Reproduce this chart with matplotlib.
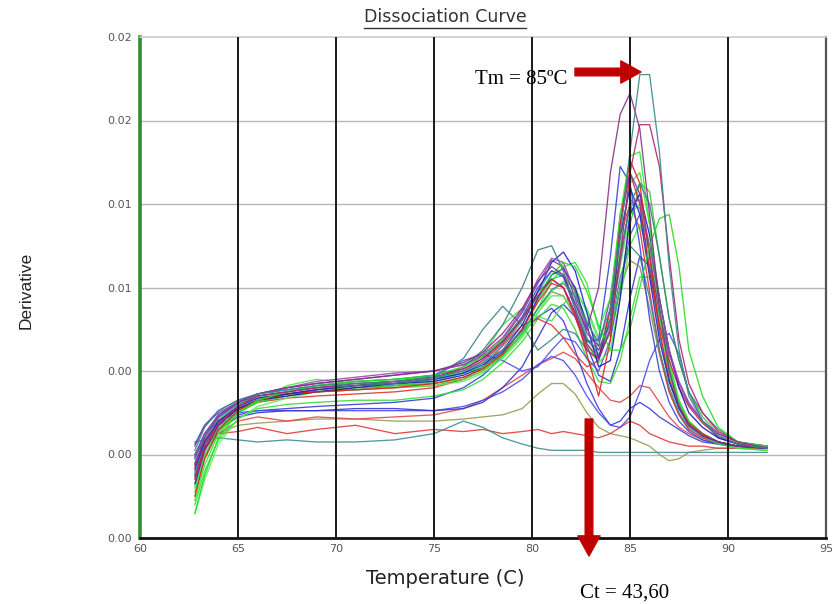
import matplotlib
matplotlib.use('Agg')
import matplotlib.pyplot as plt
import numpy as np
from matplotlib.lines import Line2D
from matplotlib import font_manager

# ---------------- data (derivative values in units of 0.001) ----------------
temperature = [62.8, 63.3, 64.0, 65.0, 66.0, 67.5, 69.0, 71.0, 73.0, 75.0, 76.5,
               77.5, 78.5, 79.5, 80.3, 81.0, 81.6, 82.2, 82.8, 83.4, 84.0, 84.5,
               85.0, 85.5, 86.0, 86.5, 87.0, 87.5, 88.0, 88.7, 89.5, 90.5, 92.0]

curve_01 = [4.2, 5.3, 6.1, 6.6, 6.9, 7.1, 7.3, 7.4, 7.5, 7.7, 8.0, 8.4, 9.0, 9.9, 11.0, 11.9, 12.2, 11.6, 10.3, 9.4, 11.0, 14.5, 18.5, 22.2, 22.2, 18.5, 13.0, 9.0, 6.8, 5.6, 4.9, 4.5, 4.3]
curve_02 = [3.5, 4.8, 5.8, 6.5, 6.9, 7.2, 7.4, 7.6, 7.8, 8.0, 8.4, 8.9, 9.8, 11.0, 12.3, 13.0, 12.6, 11.2, 10.0, 12.0, 17.5, 20.3, 21.3, 19.6, 15.5, 11.0, 8.0, 6.3, 5.4, 4.9, 4.6, 4.4, 4.3]
curve_03 = [2.8, 4.2, 5.4, 6.3, 6.8, 7.0, 7.2, 7.4, 7.5, 7.7, 8.1, 8.6, 9.4, 10.5, 11.6, 12.4, 12.0, 10.8, 9.3, 8.6, 10.0, 13.5, 17.5, 19.8, 19.8, 17.8, 13.5, 9.5, 7.4, 6.0, 5.1, 4.6, 4.3]
curve_04 = [1.2, 3.0, 4.8, 6.0, 6.6, 7.0, 7.3, 7.5, 7.6, 7.8, 8.2, 8.7, 9.5, 10.5, 11.6, 12.6, 13.2, 13.0, 11.8, 10.2, 9.0, 9.0, 10.0, 12.0, 14.0, 15.3, 15.5, 13.0, 9.0, 6.8, 5.3, 4.6, 4.4]
curve_05 = [3.8, 4.9, 5.8, 6.4, 6.8, 7.0, 7.2, 7.3, 7.4, 7.6, 8.2, 9.0, 10.2, 12.0, 13.8, 14.0, 12.8, 11.0, 9.5, 9.0, 10.5, 13.5, 16.0, 17.0, 16.0, 13.5, 10.5, 8.5, 7.0, 6.0, 5.2, 4.6, 4.3]
curve_06 = [3.0, 4.4, 5.5, 6.2, 6.6, 6.9, 7.0, 7.1, 7.3, 7.7, 8.6, 10.0, 11.1, 10.2, 9.0, 9.5, 10.0, 9.8, 9.0, 8.5, 10.0, 12.5, 14.0, 13.5, 11.5, 9.0, 7.2, 6.0, 5.3, 4.9, 4.6, 4.4, 4.3]
curve_07 = [2.5, 3.9, 5.2, 6.0, 6.5, 6.9, 7.1, 7.2, 7.3, 7.5, 7.9, 8.8, 10.2, 11.0, 10.6, 10.4, 11.2, 11.8, 11.0, 9.6, 10.5, 14.0, 17.0, 17.5, 15.0, 11.5, 8.5, 6.6, 5.6, 5.0, 4.6, 4.4, 4.3]
curve_08 = [4.5, 5.4, 6.0, 6.5, 6.8, 7.0, 7.2, 7.3, 7.4, 7.8, 8.5, 8.8, 8.5, 8.0, 8.2, 9.0, 9.6, 9.4, 8.6, 8.0, 9.5, 12.0, 14.5, 15.5, 14.0, 11.0, 8.2, 6.5, 5.6, 5.0, 4.6, 4.4, 4.3]
curve_09 = [3.3, 4.6, 5.6, 6.3, 6.7, 6.9, 7.1, 7.3, 7.4, 7.6, 7.9, 8.3, 9.0, 10.2, 11.8, 13.2, 13.7, 12.8, 10.8, 8.6, 10.5, 14.5, 16.8, 15.5, 12.5, 9.5, 7.5, 6.2, 5.4, 4.9, 4.6, 4.4, 4.3]
curve_10 = [2.0, 3.8, 5.2, 6.1, 6.6, 6.9, 7.0, 7.1, 7.2, 7.4, 7.7, 8.1, 8.8, 10.0, 11.3, 12.2, 12.0, 10.8, 8.8, 6.8, 9.5, 15.0, 18.1, 17.0, 13.5, 10.0, 7.6, 6.3, 5.5, 5.0, 4.6, 4.4, 4.3]
curve_11 = [1.8, 3.5, 5.0, 6.0, 6.6, 7.0, 7.3, 7.5, 7.6, 7.7, 7.9, 8.2, 8.8, 9.8, 11.0, 12.3, 13.0, 13.2, 12.2, 10.0, 11.5, 15.5, 18.3, 18.5, 15.0, 11.0, 8.0, 6.4, 5.5, 4.9, 4.5, 4.3, 4.2]
curve_12 = [3.8, 5.0, 5.9, 6.5, 6.9, 7.1, 7.3, 7.5, 7.6, 7.8, 8.1, 8.6, 9.4, 10.6, 12.0, 12.8, 12.5, 11.0, 9.4, 9.5, 13.5, 17.8, 17.0, 14.0, 10.5, 8.0, 6.5, 5.6, 5.1, 4.7, 4.5, 4.4, 4.3]
curve_13 = [4.4, 5.4, 6.1, 6.6, 6.9, 7.2, 7.4, 7.6, 7.8, 8.0, 8.3, 8.7, 9.5, 10.8, 12.2, 13.3, 13.0, 11.5, 9.8, 9.2, 11.5, 15.0, 17.5, 16.5, 13.5, 10.8, 8.8, 7.4, 6.4, 5.6, 5.0, 4.6, 4.4]
curve_14 = [3.0, 4.5, 5.6, 6.3, 6.7, 6.9, 7.0, 7.1, 7.2, 7.3, 7.6, 8.0, 8.7, 9.8, 11.0, 11.8, 11.6, 10.6, 9.5, 8.8, 9.8, 12.0, 13.3, 13.0, 11.0, 8.8, 7.0, 5.9, 5.2, 4.8, 4.5, 4.4, 4.3]
curve_15 = [2.2, 3.8, 5.1, 6.0, 6.5, 6.8, 7.0, 7.2, 7.3, 7.4, 7.7, 8.1, 8.8, 10.0, 11.4, 12.4, 12.6, 11.8, 10.4, 9.2, 9.8, 12.0, 15.0, 17.0, 16.6, 13.5, 10.5, 8.5, 7.0, 5.8, 5.0, 4.6, 4.3]
curve_16 = [3.5, 4.7, 5.6, 6.2, 6.5, 6.7, 6.8, 6.9, 7.0, 7.2, 7.6, 8.2, 9.2, 10.2, 10.5, 10.2, 9.6, 8.8, 8.2, 8.5, 11.0, 14.5, 16.0, 14.8, 11.8, 9.0, 7.0, 5.9, 5.2, 4.8, 4.6, 4.4, 4.3]
curve_17 = [2.6, 4.2, 5.4, 6.2, 6.6, 6.8, 7.0, 7.2, 7.4, 7.5, 7.8, 8.2, 8.9, 10.0, 11.5, 12.6, 12.9, 12.0, 10.2, 8.2, 8.5, 11.5, 15.5, 16.5, 14.5, 11.5, 9.0, 7.2, 6.0, 5.3, 4.8, 4.5, 4.3]
curve_18 = [3.1, 4.6, 5.7, 6.4, 6.8, 7.0, 7.2, 7.4, 7.5, 7.6, 7.9, 8.4, 9.2, 10.4, 11.8, 12.8, 12.6, 11.3, 9.6, 8.7, 10.0, 13.5, 16.0, 15.8, 13.0, 9.8, 7.5, 6.2, 5.4, 4.9, 4.6, 4.4, 4.3]
curve_19 = [1.6, 3.2, 4.7, 5.7, 6.2, 6.4, 6.5, 6.6, 6.6, 6.8, 7.1, 7.6, 8.4, 9.4, 10.5, 11.2, 11.0, 10.0, 8.6, 7.5, 7.4, 8.5, 10.5, 12.5, 12.5, 10.5, 8.2, 6.5, 5.5, 4.9, 4.5, 4.3, 4.2]
curve_20 = [2.9, 4.4, 5.5, 6.2, 6.6, 6.9, 7.1, 7.3, 7.5, 7.7, 8.0, 8.5, 9.3, 10.5, 11.8, 12.4, 12.0, 10.6, 9.0, 8.6, 11.0, 15.5, 17.5, 16.0, 12.8, 10.2, 8.5, 7.2, 6.3, 5.5, 4.9, 4.5, 4.3]
curve_21 = [4.0, 5.0, 5.6, 6.0, 6.1, 6.1, 6.1, 6.1, 6.1, 6.1, 6.3, 6.6, 7.0, 7.6, 8.3, 8.7, 8.5, 7.8, 6.8, 6.0, 5.4, 5.3, 5.8, 7.0, 8.5, 9.5, 9.8, 8.8, 7.0, 5.6, 4.8, 4.5, 4.4]
curve_22 = [3.6, 4.6, 5.4, 5.9, 6.1, 6.2, 6.3, 6.4, 6.5, 6.7, 7.2, 7.8, 8.7, 9.8, 10.6, 11.0, 10.4, 9.0, 7.4, 6.2, 5.4, 5.6, 6.2, 6.5, 6.2, 5.8, 5.5, 5.2, 4.9, 4.6, 4.5, 4.4, 4.3]
curve_23 = [3.2, 4.3, 5.0, 5.6, 5.8, 5.6, 5.8, 5.7, 5.8, 5.9, 6.2, 6.6, 7.2, 7.8, 8.3, 8.6, 8.9, 8.6, 7.9, 7.2, 6.6, 6.5, 6.8, 7.3, 7.2, 6.5, 5.8, 5.3, 5.0, 4.7, 4.5, 4.4, 4.3]
curve_24 = [3.4, 4.3, 5.0, 5.4, 5.5, 5.6, 5.7, 5.7, 5.6, 5.6, 5.7, 5.8, 5.9, 6.2, 6.9, 7.4, 7.4, 6.9, 6.0, 5.3, 5.0, 4.9, 4.8, 4.6, 4.4, 4.0, 3.7, 3.8, 4.1, 4.2, 4.3, 4.3, 4.3]
curve_25 = [4.0, 4.6, 5.0, 5.1, 5.3, 5.0, 5.2, 5.4, 5.0, 5.2, 5.1, 5.2, 5.0, 5.1, 5.2, 5.0, 5.1, 5.0, 4.9, 4.8, 5.0, 5.3, 5.6, 5.4, 5.0, 4.8, 4.6, 4.5, 4.4, 4.4, 4.3, 4.3, 4.3]
curve_26 = [4.6, 4.7, 4.8, 4.7, 4.6, 4.7, 4.6, 4.6, 4.7, 5.0, 5.6, 5.3, 4.8, 4.5, 4.3, 4.2, 4.2, 4.2, 4.2, 4.1, 4.1, 4.1, 4.1, 4.1, 4.1, 4.1, 4.1, 4.1, 4.1, 4.1, 4.1, 4.1, 4.1]
curve_27 = [1.15, 2.8, 4.5, 5.7, 6.3, 6.7, 7.0, 7.1, 7.2, 7.3, 7.5, 7.9, 8.6, 9.6, 10.8, 11.8, 12.3, 12.0, 10.8, 9.5, 10.2, 13.0, 15.5, 16.0, 13.8, 10.5, 7.8, 6.3, 5.4, 4.9, 4.6, 4.4, 4.3]
curve_28 = [2.4, 4.0, 5.3, 6.1, 6.6, 7.3, 7.6, 7.4, 7.3, 7.4, 7.6, 8.0, 8.7, 9.7, 10.8, 11.6, 11.6, 10.7, 9.3, 8.4, 9.0, 11.5, 14.0, 15.0, 13.8, 11.0, 8.3, 6.6, 5.6, 5.0, 4.6, 4.4, 4.3]
curve_29 = [3.9, 5.0, 5.9, 6.5, 6.9, 7.2, 7.5, 7.7, 7.9, 8.0, 8.3, 8.8, 9.6, 10.9, 12.4, 13.4, 13.2, 11.8, 10.0, 9.0, 10.2, 13.2, 16.0, 16.2, 14.0, 11.5, 9.0, 7.5, 6.5, 5.6, 5.0, 4.6, 4.4]
curve_30 = [3.0, 4.3, 5.2, 5.8, 6.0, 6.1, 6.1, 6.2, 6.2, 6.1, 6.2, 6.5, 7.2, 8.2, 9.6, 10.8, 11.2, 10.6, 9.2, 7.8, 7.5, 9.0, 11.5, 13.5, 13.0, 10.5, 8.0, 6.4, 5.5, 4.9, 4.6, 4.4, 4.3]

x_ticks = [60, 65, 70, 75, 80, 85, 90, 95]
y_ticks = [0.0, 0.004, 0.008, 0.012, 0.016, 0.020, 0.024]
y_tick_labels = ['0.00', '0.00', '0.00', '0.01', '0.01', '0.02', '0.02']

# ---------------- styling ----------------
series = [
    (curve_24, '#9a9a55'), (curve_25, '#e03c3c'), (curve_26, '#3f8f8f'),
    (curve_23, '#e04848'), (curve_22, '#3a3ae0'), (curve_21, '#4a4af0'),
    (curve_30, '#3434c8'), (curve_19, '#33dd33'), (curve_14, '#888860'),
    (curve_16, '#e23232'), (curve_08, '#5050e6'), (curve_06, '#3d8585'),
    (curve_07, '#44e044'), (curve_28, '#3fe83f'), (curve_27, '#55ee55'),
    (curve_15, '#36c836'), (curve_18, '#36a8a8'), (curve_20, '#cc2244'),
    (curve_17, '#1818b0'), (curve_13, '#7a3aaa'), (curve_12, '#3344dd'),
    (curve_11, '#2ee82e'), (curve_10, '#dd2020'), (curve_09, '#2222cc'),
    (curve_29, '#9a44aa'), (curve_05, '#3c7f7f'), (curve_04, '#22dd22'),
    (curve_03, '#b02470'), (curve_02, '#86308a'), (curve_01, '#3a8a8a'),
]

fig = plt.figure(figsize=(8.32, 6.04), dpi=100)
W, H = 832, 604
ax = fig.add_axes([140 / W, 1 - 538 / H, (826 - 140) / W, (538 - 37) / H])

xs = np.array(temperature)
for vals, col in series:
    ax.plot(xs, np.array(vals) * 1e-3, color=col, lw=0.95, alpha=0.9, zorder=2)

ax.set_xlim(60, 95)
ax.set_ylim(0, 0.024)

for yv in y_ticks[1:-1]:
    ax.axhline(yv, color='#b8b8b8', lw=1.0, zorder=1)
for xv in x_ticks[1:-1]:
    ax.axvline(xv, color='#1a1a1a', lw=1.4, zorder=3)

ax.set_xticks(x_ticks)
ax.set_xticklabels([str(t) for t in x_ticks])
ax.set_yticks(y_ticks)
ax.set_yticklabels(y_tick_labels)
ax.tick_params(axis='both', length=0, labelsize=8, labelcolor='#555555')
ax.tick_params(axis='x', pad=4)
ax.tick_params(axis='y', pad=6)
for lab in ax.get_xticklabels() + ax.get_yticklabels():
    lab.set_family('DejaVu Sans')

ax.spines['left'].set_color('#2f8f2f')
ax.spines['left'].set_linewidth(2.6)
ax.spines['bottom'].set_color('#111111')
ax.spines['bottom'].set_linewidth(2.0)
ax.spines['right'].set_color('#555555')
ax.spines['right'].set_linewidth(1.6)
ax.spines['top'].set_color('#cccccc')
ax.spines['top'].set_linewidth(1.2)

# titles / labels
title = fig.text(445 / W, 1 - 17 / H, 'Dissociation Curve', ha='center', va='center',
                 fontsize=12.5, family='DejaVu Sans', color='#333333')
fig.text(445 / W, 1 - 579 / H, 'Temperature (C)', ha='center', va='center',
         fontsize=14, family='DejaVu Sans', color='#222222')

names = {f.name for f in font_manager.fontManager.ttflist}
ylab_family = 'Liberation Sans Narrow' if 'Liberation Sans Narrow' in names else 'Liberation Sans'
fig.text(26 / W, 1 - 290 / H, 'Derivative', ha='center', va='center', rotation=90,
         fontsize=12.5, family=ylab_family, color='#222222')

# annotations
fig.text(475 / W, 1 - 80 / H, 'Tm = 85ºC', ha='left', va='center', fontsize=15,
         family='Liberation Serif', color='black')
fig.text(580 / W, 1 - 593 / H, 'Ct = 43,60', ha='left', va='center', fontsize=15,
         family='Liberation Serif', color='black')

arrow_style = 'simple,head_length=1.45,head_width=1.6,tail_width=0.55'
ax.annotate('', xy=(641, H - 72), xytext=(575, H - 72), xycoords='figure pixels',
            textcoords='figure pixels', annotation_clip=False,
            arrowprops=dict(arrowstyle=arrow_style, color='#c00000', mutation_scale=10,
                            shrinkA=0, shrinkB=0), zorder=10)
ax.annotate('', xy=(589, H - 556), xytext=(589, H - 419), xycoords='figure pixels',
            textcoords='figure pixels', annotation_clip=False,
            arrowprops=dict(arrowstyle=arrow_style, color='#c00000', mutation_scale=10,
                            shrinkA=0, shrinkB=0), zorder=10)

# underline the title
fig.canvas.draw()
bb = title.get_window_extent(renderer=fig.canvas.get_renderer())
bbf = bb.transformed(fig.transFigure.inverted())
fig.add_artist(Line2D([bbf.x0, bbf.x1], [bbf.y0 - 1.5 / H, bbf.y0 - 1.5 / H],
                      transform=fig.transFigure, color='#333333', lw=1.0))

fig.savefig('out.png', dpi=100)
